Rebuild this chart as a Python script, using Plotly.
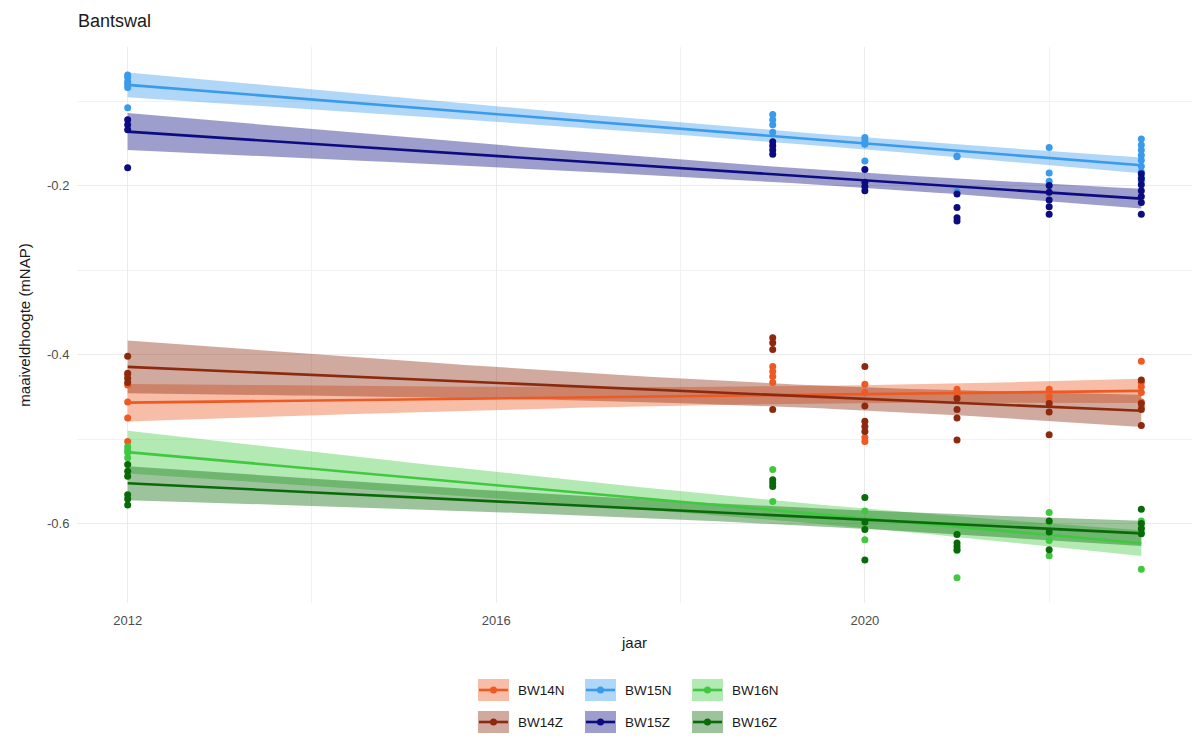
import numpy as np
import plotly.graph_objects as go

# --- measurements per location (jaar = year, hoogte = surface level in m NAP) ---
bw14n_jaar = [2012, 2012, 2012, 2012, 2012, 2019, 2019, 2019, 2019, 2020, 2020, 2020, 2020,
              2021, 2021, 2021, 2022, 2022, 2022, 2023, 2023, 2023, 2023, 2023, 2023]
bw14n_hoogte = [-0.424, -0.436, -0.456, -0.475, -0.503, -0.414, -0.420, -0.426, -0.433,
                -0.435, -0.445, -0.498, -0.503, -0.441, -0.445, -0.449,
                -0.441, -0.450, -0.455, -0.408, -0.433, -0.438, -0.445, -0.456, -0.462]

bw14z_jaar = [2012, 2012, 2012, 2012, 2019, 2019, 2019, 2019, 2020, 2020, 2020, 2020, 2020,
              2021, 2021, 2021, 2021, 2022, 2022, 2022, 2023, 2023, 2023, 2023]
bw14z_hoogte = [-0.402, -0.422, -0.428, -0.433, -0.380, -0.386, -0.394, -0.465,
                -0.414, -0.461, -0.479, -0.485, -0.491, -0.452, -0.465, -0.475, -0.501,
                -0.458, -0.468, -0.495, -0.430, -0.458, -0.465, -0.484]

bw15n_jaar = [2012, 2012, 2012, 2012, 2012, 2012, 2019, 2019, 2019, 2019, 2020, 2020, 2020, 2020,
              2021, 2021, 2021, 2022, 2022, 2022,
              2023, 2023, 2023, 2023, 2023, 2023, 2023, 2023, 2023]
bw15n_hoogte = [-0.069, -0.072, -0.077, -0.080, -0.084, -0.108, -0.116, -0.122, -0.128, -0.137,
                -0.143, -0.147, -0.151, -0.171, -0.165, -0.166, -0.207, -0.155, -0.185, -0.195,
                -0.145, -0.152, -0.158, -0.164, -0.170, -0.177, -0.184, -0.190, -0.195]

bw15z_jaar = [2012, 2012, 2012, 2012, 2019, 2019, 2019, 2019, 2020, 2020, 2020, 2020,
              2021, 2021, 2021, 2021, 2022, 2022, 2022, 2022, 2022,
              2023, 2023, 2023, 2023, 2023, 2023, 2023]
bw15z_hoogte = [-0.122, -0.128, -0.134, -0.179, -0.148, -0.153, -0.158, -0.163,
                -0.181, -0.196, -0.201, -0.206, -0.210, -0.226, -0.238, -0.242,
                -0.200, -0.208, -0.217, -0.225, -0.234,
                -0.186, -0.192, -0.199, -0.206, -0.213, -0.220, -0.234]

bw16n_jaar = [2012, 2012, 2012, 2012, 2019, 2019, 2020, 2020, 2020, 2021, 2021, 2021,
              2022, 2022, 2022, 2022, 2023, 2023, 2023, 2023, 2023]
bw16n_hoogte = [-0.509, -0.513, -0.516, -0.522, -0.536, -0.574, -0.585, -0.600, -0.619,
                -0.612, -0.632, -0.664, -0.587, -0.598, -0.620, -0.638,
                -0.597, -0.600, -0.605, -0.611, -0.654]

bw16z_jaar = [2012, 2012, 2012, 2012, 2012, 2012, 2019, 2019, 2019, 2020, 2020, 2020, 2020,
              2021, 2021, 2021, 2021, 2022, 2022, 2022, 2023, 2023, 2023, 2023]
bw16z_hoogte = [-0.530, -0.538, -0.544, -0.566, -0.571, -0.578, -0.548, -0.552, -0.556,
                -0.569, -0.598, -0.607, -0.643, -0.613, -0.623, -0.627, -0.631,
                -0.597, -0.610, -0.631, -0.583, -0.600, -0.606, -0.612]

series_names = ["BW14N", "BW14Z", "BW15N", "BW15Z", "BW16N", "BW16Z"]
series_colors = ["#EE5A24", "#8B2A0E", "#3A9AEB", "#0C0C80", "#40C840", "#0A6A0A"]
series_data = [(bw14n_jaar, bw14n_hoogte), (bw14z_jaar, bw14z_hoogte),
               (bw15n_jaar, bw15n_hoogte), (bw15z_jaar, bw15z_hoogte),
               (bw16n_jaar, bw16n_hoogte), (bw16z_jaar, bw16z_hoogte)]

x_ticks = [2012, 2016, 2020]
x_ticktext = ["2012", "2016", "2020"]
y_ticks = [-0.6, -0.4, -0.2]
y_ticktext = ["-0.6", "-0.4", "-0.2"]

legend_rows = [["BW14N", "BW15N", "BW16N"], ["BW14Z", "BW15Z", "BW16Z"]]

RIBBON_ALPHA = 0.4


def rgba(hex_color, alpha):
    h = hex_color.lstrip("#")
    r, g, b = int(h[0:2], 16), int(h[2:4], 16), int(h[4:6], 16)
    return f"rgba({r},{g},{b},{alpha})"


def t_quantile_975(df):
    # Cornish-Fisher expansion of Student's t 97.5% quantile
    z = 1.959963985
    g1 = (z**3 + z) / 4
    g2 = (5 * z**5 + 16 * z**3 + 3 * z) / 96
    g3 = (3 * z**7 + 19 * z**5 + 17 * z**3 - 15 * z) / 384
    return z + g1 / df + g2 / df**2 + g3 / df**3


def lm_smooth(x, y, n_grid=80):
    x = np.asarray(x, float)
    y = np.asarray(y, float)
    n = len(x)
    slope, intercept = np.polyfit(x, y, 1)
    resid = y - (slope * x + intercept)
    s = np.sqrt(np.sum(resid**2) / (n - 2))
    xm = x.mean()
    sxx = np.sum((x - xm) ** 2)
    xg = np.linspace(x.min(), x.max(), n_grid)
    yg = slope * xg + intercept
    se = s * np.sqrt(1.0 / n + (xg - xm) ** 2 / sxx)
    t = t_quantile_975(n - 2)
    return xg, yg, yg - t * se, yg + t * se


fig = go.Figure()

fits = [lm_smooth(jx, hy) for jx, hy in series_data]

# confidence ribbons
for name, color, (xg, yg, lo, hi) in zip(series_names, series_colors, fits):
    fig.add_trace(go.Scatter(
        x=np.concatenate([xg, xg[::-1]]), y=np.concatenate([hi, lo[::-1]]),
        fill="toself", fillcolor=rgba(color, RIBBON_ALPHA), line=dict(width=0),
        mode="lines", hoverinfo="skip", showlegend=False, name=name))

# fitted lines
for name, color, (xg, yg, lo, hi) in zip(series_names, series_colors, fits):
    fig.add_trace(go.Scatter(x=xg, y=yg, mode="lines", line=dict(color=color, width=2.6),
                             showlegend=False, name=name))

# observations
for name, color, (jx, hy) in zip(series_names, series_colors, series_data):
    fig.add_trace(go.Scatter(x=jx, y=hy, mode="markers",
                             marker=dict(color=color, size=7, line=dict(width=0)),
                             showlegend=False, name=name))

# plot-area geometry in pixels (used for the legend drawn below the axis)
W, H = 1192, 746
ML, MR, MT, MB = 77, 0, 47, 143
PW, PH = W - ML - MR, H - MT - MB


def px_to_paper(px, py):
    return (px - ML) / PW, (H - MB - py) / PH


shapes = []
annotations = []
color_of = dict(zip(series_names, series_colors))
key_left = [478, 585, 692]
row_y = [690, 722]
key_w, key_h = 31, 22
for r, row in enumerate(legend_rows):
    for c, name in enumerate(row):
        col = color_of[name]
        x0, y0 = px_to_paper(key_left[c], row_y[r] - key_h / 2)
        x1, y1 = px_to_paper(key_left[c] + key_w, row_y[r] + key_h / 2)
        shapes.append(dict(type="rect", xref="paper", yref="paper", x0=x0, x1=x1, y0=y1, y1=y0,
                           fillcolor=rgba(col, RIBBON_ALPHA), line=dict(width=0)))
        lx0, ly = px_to_paper(key_left[c] + 1, row_y[r])
        lx1, _ = px_to_paper(key_left[c] + key_w - 1, row_y[r])
        shapes.append(dict(type="line", xref="paper", yref="paper", x0=lx0, x1=lx1, y0=ly, y1=ly,
                           line=dict(color=col, width=2.6)))
        cx0, cy0 = px_to_paper(key_left[c] + key_w / 2 - 3.5, row_y[r] - 3.5)
        cx1, cy1 = px_to_paper(key_left[c] + key_w / 2 + 3.5, row_y[r] + 3.5)
        shapes.append(dict(type="circle", xref="paper", yref="paper", x0=cx0, x1=cx1, y0=cy1, y1=cy0,
                           fillcolor=col, line=dict(width=0)))
        tx, ty = px_to_paper(key_left[c] + key_w + 7, row_y[r])
        annotations.append(dict(text=name, xref="paper", yref="paper", x=tx, y=ty,
                                xanchor="left", yanchor="middle", showarrow=False,
                                font=dict(size=13.5, color="#1a1a1a")))

fig.update_layout(
    width=W, height=H,
    margin=dict(l=ML, r=MR, t=MT, b=MB),
    paper_bgcolor="white", plot_bgcolor="white",
    showlegend=False,
    font=dict(family="Liberation Sans, Arial, sans-serif", color="#1a1a1a"),
    title=dict(text="Bantswal", xref="container", yref="container",
               x=78 / W, y=1 - 21 / H, xanchor="left", yanchor="middle",
               font=dict(size=18, color="#1a1a1a")),
    shapes=shapes,
    annotations=annotations,
    xaxis=dict(
        range=[2011.45, 2023.55], tickmode="array", tickvals=x_ticks, ticktext=x_ticktext,
        showgrid=True, gridcolor="#EBEBEB", gridwidth=1.1, zeroline=False, showline=False,
        ticks="outside", ticklen=5, tickcolor="rgba(0,0,0,0)",
        tickfont=dict(size=13, color="#4D4D4D"),
        minor=dict(tickmode="linear", tick0=2012, dtick=2, showgrid=True,
                   gridcolor="#F2F2F2", gridwidth=1),
        title=dict(text="jaar", font=dict(size=15, color="#1a1a1a"), standoff=10),
    ),
    yaxis=dict(
        range=[-0.694, -0.036], tickmode="array", tickvals=y_ticks, ticktext=y_ticktext,
        showgrid=True, gridcolor="#EBEBEB", gridwidth=1.1, zeroline=False, showline=False,
        ticks="outside", ticklen=4, tickcolor="rgba(0,0,0,0)",
        tickfont=dict(size=13, color="#4D4D4D"),
        minor=dict(tickmode="linear", tick0=-0.1, dtick=0.1, showgrid=True,
                   gridcolor="#F2F2F2", gridwidth=1),
        title=dict(text="maaiveldhoogte (mNAP)", font=dict(size=15, color="#1a1a1a"), standoff=12),
    ),
)

fig.write_html("out.html")
